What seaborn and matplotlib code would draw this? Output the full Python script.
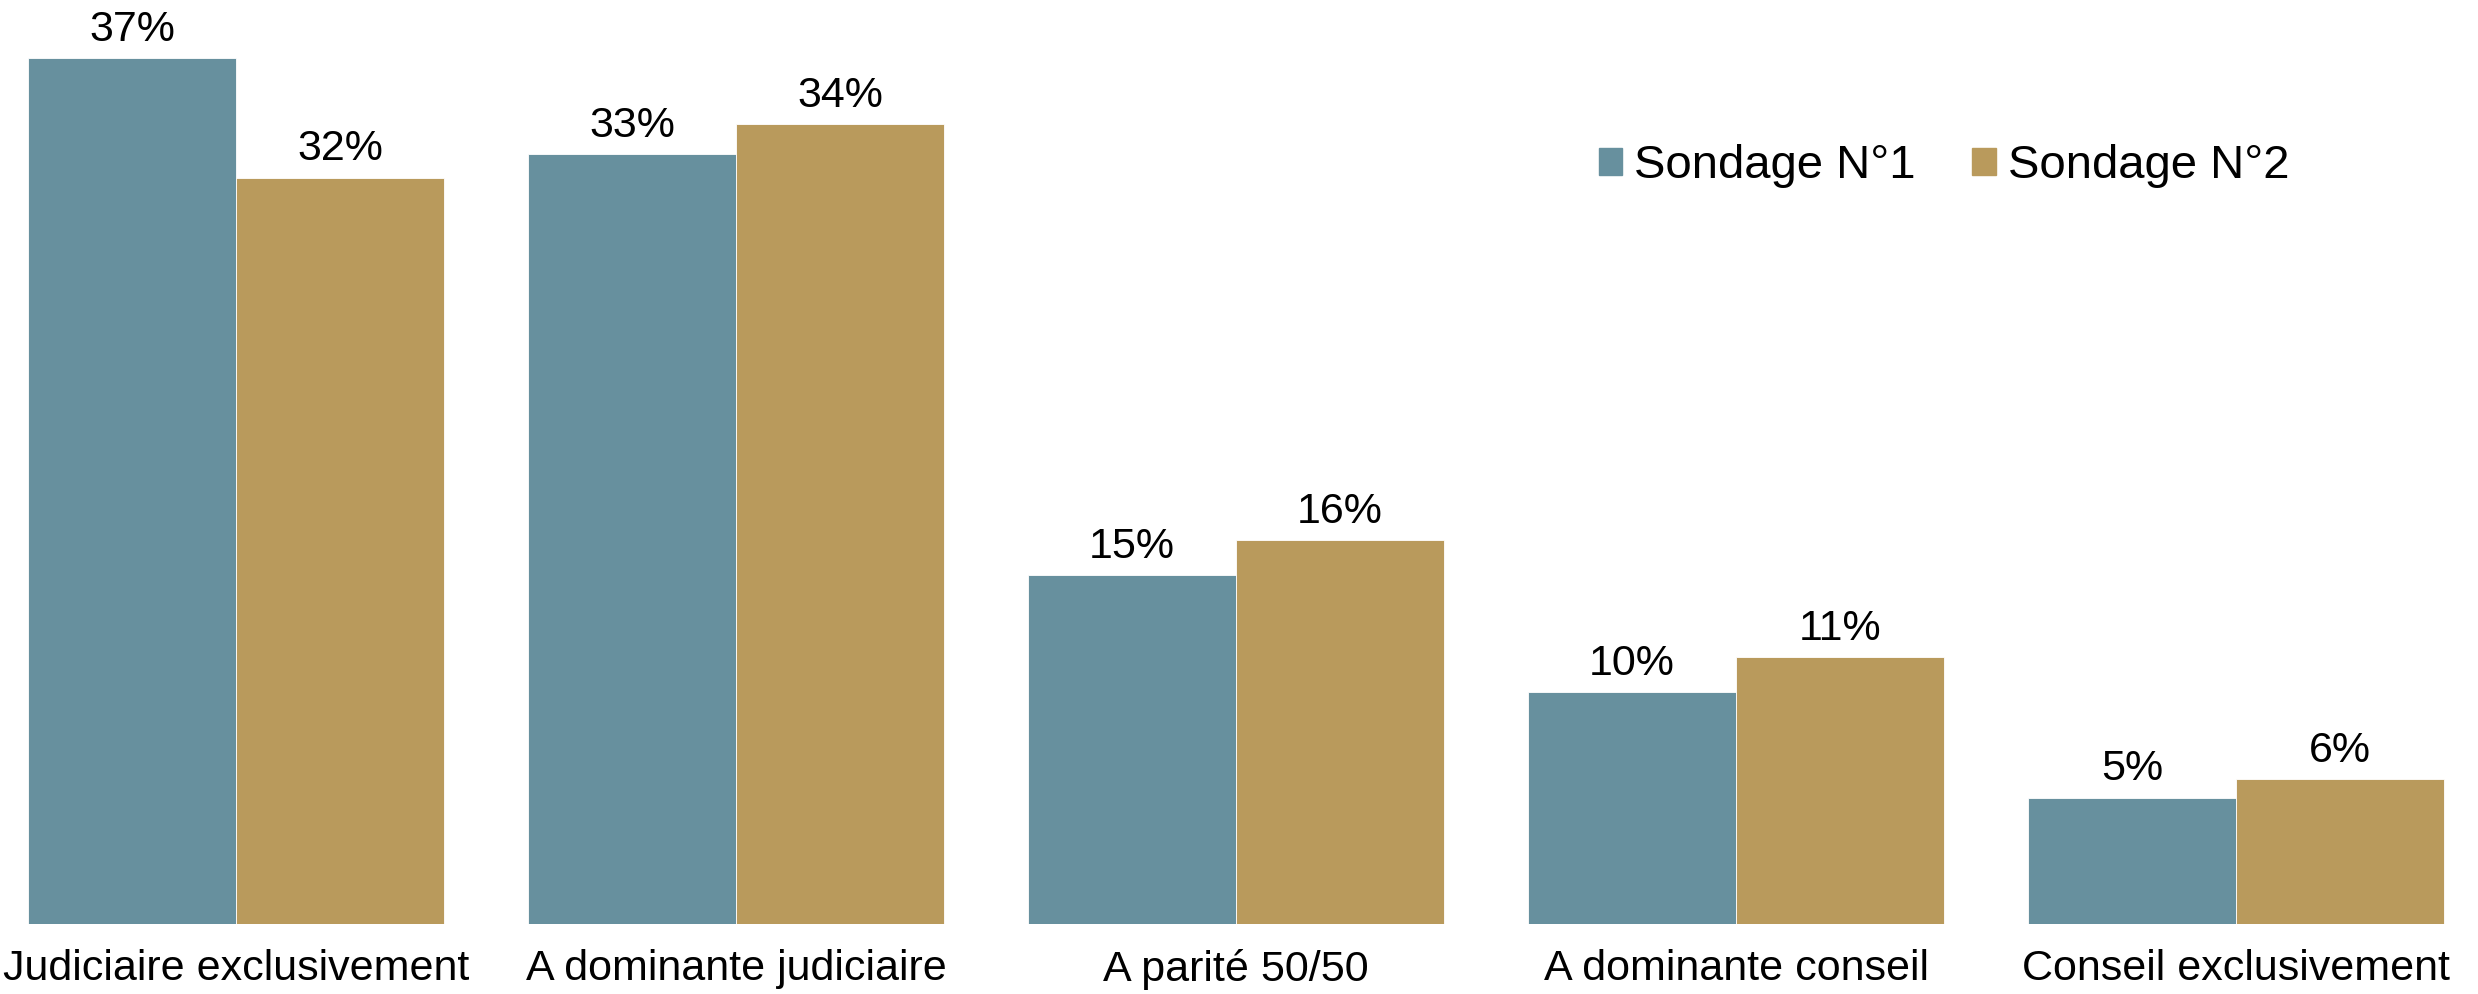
import matplotlib
matplotlib.use("Agg")
import matplotlib.pyplot as plt
from matplotlib.patches import Patch
import pandas as pd
import seaborn as sns

categories = ["Judiciaire exclusivement", "A dominante judiciaire", "A parité 50/50",
              "A dominante conseil", "Conseil exclusivement"]
series = ["Sondage N°1", "Sondage N°2"]
# bar heights; labels show them rounded
sondage_1 = [37.0, 32.9, 14.9, 9.9, 5.4]
sondage_2 = [31.9, 34.2, 16.4, 11.4, 6.2]
colors = ["#67909E", "#B99A5C"]

df = pd.DataFrame({
    "categorie": categories * 2,
    "sondage": [series[0]] * len(categories) + [series[1]] * len(categories),
    "valeur": sondage_1 + sondage_2,
})

sns.set_style("white")
plt.rcParams["font.family"] = ["Liberation Sans", "DejaVu Sans"]
plt.rcParams["text.color"] = "black"
plt.rcParams["xtick.color"] = "black"

fig = plt.figure(figsize=(24.78, 9.94), dpi=100)
ax = fig.add_axes([0, 70 / 994, 1, 924 / 994])

sns.barplot(data=df, x="categorie", y="valeur", hue="sondage", order=categories,
            hue_order=series, palette=colors, width=0.832, gap=0, saturation=1,
            edgecolor="white", linewidth=0.6, errorbar=None, legend=False, ax=ax)

for cont in ax.containers:
    ax.bar_label(cont, labels=[f"{v:.0f}%" for v in cont.datavalues],
                 padding=6, fontsize=31, color="black")

ax.set_xlim(-0.472, 4.484)
ax.set_ylim(0, 39.5)
ax.set_xlabel("")
ax.set_ylabel("")
ax.set_yticks([])
ax.tick_params(axis="x", length=0, pad=18, labelsize=31, labelcolor="black")
sns.despine(ax=ax, left=True, bottom=True, top=True, right=True)

handles = [Patch(color=c, label=s) for c, s in zip(colors, series)]
fig.legend(handles=handles, loc="center", bbox_to_anchor=(1944 / 2478, 1 - 166 / 994),
           ncol=2, frameon=False, fontsize=34, handlelength=0.5, handleheight=0.5,
           handletextpad=0.25, columnspacing=1.2, labelcolor="black")

fig.savefig("out.png", dpi=100)
